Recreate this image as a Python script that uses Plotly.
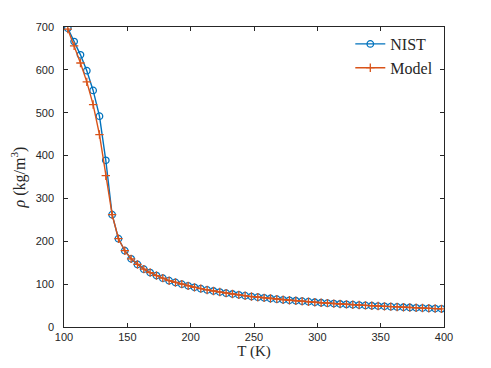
import plotly.graph_objects as go

# Temperatures (K)
T = [103 + 5 * i for i in range(60)]

# NIST density (kg/m^3)
rho_nist = [697, 666, 635, 598, 552, 492, 389, 262, 206, 178,
            159, 146, 135, 127, 120, 114, 108, 104, 100, 96,
            92.5, 89.5, 86.5, 84, 81.5, 79, 77, 75, 73, 71,
            69.5, 68, 66.5, 65, 63.5, 62.3, 61.2, 60.2, 59.0, 57.8,
            56.6, 55.6, 54.6, 53.7, 52.8, 52.0, 51.2, 50.4, 49.6, 48.9,
            48.2, 47.5, 46.8, 46.1, 45.5, 44.8, 44.2, 43.6, 43.0, 42.4]

# Model density (kg/m^3)
rho_model = [695, 656, 616, 572, 519, 449, 353, 262, 206, 178,
             159, 146, 135, 127, 120, 114, 108, 104, 100, 96,
             92.5, 89.5, 86.5, 84, 81.5, 79, 77, 75, 73, 71,
             69.5, 68, 66.5, 65, 63.5, 62.3, 61.2, 60.2, 59.0, 57.8,
             56.6, 55.6, 54.6, 53.7, 52.8, 52.0, 51.2, 50.4, 49.6, 48.9,
             48.2, 47.5, 46.8, 46.1, 45.5, 44.8, 44.2, 43.6, 43.0, 42.4]

x_ticks = [100, 150, 200, 250, 300, 350, 400]
y_ticks = [0, 100, 200, 300, 400, 500, 600, 700]

BLUE = "#0072BD"
ORANGE = "#D95319"

fig = go.Figure()
fig.add_trace(go.Scatter(
    x=T, y=rho_nist, name="NIST", mode="lines+markers",
    line=dict(color=BLUE, width=1.4),
    marker=dict(symbol="circle-open", size=6.5, color=BLUE, line=dict(width=1.3, color=BLUE)),
))
fig.add_trace(go.Scatter(
    x=T, y=rho_model, name="Model", mode="lines+markers",
    line=dict(color=ORANGE, width=1.4),
    marker=dict(symbol="cross-thin-open", size=6, color=ORANGE, line=dict(width=1.3, color=ORANGE)),
))

axis_common = dict(
    showgrid=False, zeroline=False, showline=True, mirror="ticks",
    linecolor="#262626", linewidth=0.6, ticks="inside", ticklen=4,
    tickcolor="#262626", tickwidth=0.6, automargin=False,
    tickfont=dict(family="Liberation Sans, Arial", size=11, color="#262626"),
)

fig.update_xaxes(range=[100, 400], tickvals=x_ticks, ticktext=[str(v) for v in x_ticks],
                 title=dict(text="T (K)", font=dict(family="Liberation Serif", size=15, color="#262626"),
                            standoff=4),
                 **axis_common)
fig.update_yaxes(range=[0, 700], tickvals=y_ticks, ticktext=[str(v) for v in y_ticks],
                 ticklabelstandoff=7,
                 title=dict(text="<i>ρ</i> (kg/m<sup>3</sup>)",
                            font=dict(family="Liberation Serif", size=16, color="#262626"),
                            standoff=7),
                 **axis_common)

# page body has an 8px margin; figure sized so the plot lands where the reference has it
fig.update_layout(
    width=475, height=352,
    margin=dict(l=56, r=39, t=19, b=33),
    paper_bgcolor="white", plot_bgcolor="white",
    showlegend=True,
    legend=dict(x=0.985, y=1.0, xanchor="right", yanchor="top",
                bgcolor="rgba(255,255,255,0)", borderwidth=0,
                font=dict(family="Liberation Serif", size=16, color="#262626"),
                itemwidth=30, tracegroupgap=0),
)

fig.write_html("out.html")
